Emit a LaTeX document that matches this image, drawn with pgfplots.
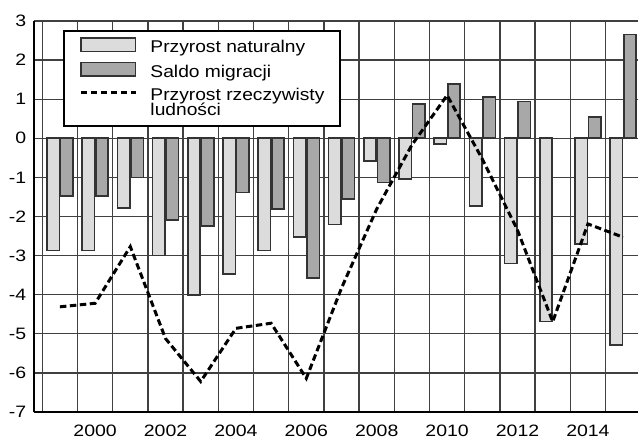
\documentclass[border=0pt]{standalone}
\usepackage{pgfplots}
\pgfplotsset{compat=1.18}
\usepackage{fontspec}
\setmainfont{Liberation Sans}[FakeStretch=1.18]
\newfontfamily\legfont{Liberation Sans}[FakeStretch=1.13]
\definecolor{lightbar}{HTML}{DCDCDC}
\definecolor{darkbar}{HTML}{A8A8A8}
\definecolor{barline}{HTML}{333333}
\definecolor{gridc}{HTML}{404040}

\begin{document}
\begin{tikzpicture}
\path[use as bounding box] (0,0) rectangle (638pt,440pt);
\begin{axis}[
  at={(34pt,28pt)}, anchor=south west,
  x=35.2pt, y=39.1pt,
  xmin=1998.264, xmax=2015.423, ymin=-7, ymax=3,
  axis x line*=bottom, axis y line*=left,
  axis line style={line width=2.6pt, black},
  xtick={2000,2002,...,2014},
  ytick={-7,-6,...,3},
  minor xtick={1998.5,1999.5,...,2015.5},
  major tick length=0pt, minor tick length=0pt,
  ymajorgrids=true, xminorgrids=true, xmajorgrids=false,
  major grid style={line width=1.3pt, gridc},
  minor grid style={line width=1.3pt, gridc},
  /pgf/number format/assume math mode=true,
  /pgf/number format/1000 sep={},
  tick label style={font=\fontsize{16.5}{19.8}\selectfont},
  yticklabel style={anchor=east, inner sep=0pt, xshift=-7.5pt},
  xticklabel style={anchor=north, inner sep=0pt, yshift=-12.5pt},
  legend style={at={(rel axis cs:0.048,0.978)}, anchor=north west,
    draw=black, line width=2pt, fill=white,
    inner xsep=15.5pt, inner ysep=6.5pt, row sep=6pt, column sep=13pt,
    font=\legfont\fontsize{17}{20.4}\selectfont,
    nodes={inner sep=0pt, text depth=3.5pt}, cells={anchor=base west}},
]
\addplot[ybar, bar width=12.4pt, bar shift=-6.8pt, fill=lightbar, draw=barline, line width=1.6pt,
  legend image code/.code={\draw[fill=lightbar, draw=barline, line width=1.6pt] (0pt,1pt) rectangle (54.5pt,14.5pt);}]
coordinates {
(1999,-2.87) (2000,-2.87) (2001,-1.79) (2002,-3.00) (2003,-4.01) (2004,-3.47)
(2005,-2.87) (2006,-2.52) (2007,-2.20) (2008,-0.58) (2009,-1.04) (2010,-0.15)
(2011,-1.73) (2012,-3.20) (2013,-4.69) (2014,-2.71) (2015,-5.29)
};
\addlegendentry{Przyrost naturalny}
\addplot[ybar, bar width=12.4pt, bar shift=6.8pt, fill=darkbar, draw=barline, line width=1.6pt,
  legend image code/.code={\draw[fill=darkbar, draw=barline, line width=1.6pt] (0pt,1pt) rectangle (54.5pt,14.5pt);}]
coordinates {
(1999,-1.47) (2000,-1.47) (2001,-1.00) (2002,-2.09) (2003,-2.24) (2004,-1.39)
(2005,-1.81) (2006,-3.58) (2007,-1.56) (2008,-1.13) (2009,0.88) (2010,1.39)
(2011,1.06) (2012,0.94) (2014,0.55) (2015,2.65)
};
\addlegendentry{Saldo migracji}
\addplot[black, line width=3pt, dash pattern=on 6.5pt off 3.5pt,
  legend image code/.code={\path[draw=none, fill=none] (0pt,1pt) rectangle (54.5pt,14.5pt); \draw[black, line width=3pt, dash pattern=on 6.5pt off 3.5pt] (0pt,23.4pt) -- (55pt,23.4pt);}]
coordinates {
(1999,-4.31) (2000,-4.22) (2001,-2.77) (2002,-5.12) (2003,-6.22) (2004,-4.86)
(2005,-4.73) (2006,-6.14) (2007,-3.83) (2008,-1.81) (2009,-0.17) (2010,1.10)
(2011,-0.53) (2012,-2.35) (2013,-4.69) (2014,-2.19) (2015,-2.53)
};
\addlegendentry{\begin{tabular}[b]{@{}l@{}}Przyrost rzeczywisty\\[-5.5pt]ludności\end{tabular}}
\end{axis}
\end{tikzpicture}
\end{document}
